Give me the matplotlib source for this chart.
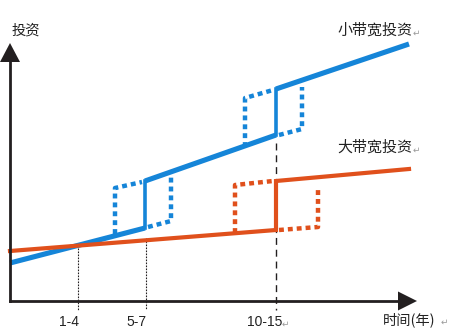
import matplotlib
matplotlib.use("Agg")
import matplotlib.pyplot as plt

plt.rcParams['font.family'] = ['Noto Sans CJK SC', 'DejaVu Sans']

# ---- schematic data (x: time, y: investment; origin at the axes corner) ----
blue_x = [0, 135, 135, 266, 266, 399]
blue_y = [38, 73, 120, 166, 212, 257]
orange_x = [0, 266, 266, 399]
orange_y = [50, 71, 120, 132]

# dotted uncertainty outlines
blue_band1_left_x = [105, 105, 132]
blue_band1_left_y = [67, 113, 119]
blue_band1_right_x = [138, 161, 161]
blue_band1_right_y = [74, 80, 127]
blue_band2_left_x = [235, 235, 263]
blue_band2_left_y = [154, 203, 211]
blue_band2_right_x = [269, 292, 292]
blue_band2_right_y = [166, 172, 214]
orange_band_left_x = [225, 225, 263]
orange_band_left_y = [68, 116, 120]
orange_band_right_x = [269, 308, 308]
orange_band_right_y = [71, 74, 114]

# time markers
tick_x = [68, 136, 266]
tick_top = [56, 63, 158]
tick_labels = ["1-4", "5-7", "10-15"]

BLUE = "#1585d8"
ORANGE = "#e0501c"
AX = "#231f20"

fig = plt.figure(figsize=(4.51, 3.32), dpi=100)
ax = fig.add_axes([0, 0, 1, 1])
ax.set_xlim(-10, 441)
ax.set_ylim(-31, 301)
ax.axis("off")

# guide lines
ax.plot([tick_x[0]] * 2, [tick_top[0], -9], color=AX, lw=0.8, ls=(0, (1.5, 1.2)))
ax.plot([tick_x[1]] * 2, [tick_top[1], -9], color=AX, lw=0.8, ls=(0, (1.5, 1.2)))
ax.plot([tick_x[2]] * 2, [tick_top[2], -9], color=AX, lw=1.0, ls=(0, (5, 3.5)))

# main lines
for i in (0, 2, 4):
    ax.plot(blue_x[i:i + 2], blue_y[i:i + 2], color=BLUE, lw=3.7, solid_capstyle='butt', zorder=3)
for i in (1, 3):
    ax.plot(blue_x[i:i + 2], blue_y[i:i + 2], color=BLUE, lw=2.6, solid_capstyle='projecting', zorder=3)
ax.plot(orange_x, orange_y, color=ORANGE, lw=3.0, solid_joinstyle='miter', zorder=3)

dot = dict(lw=3.2, ls=(0, (1.1, 0.9)), dash_capstyle='butt', zorder=2)
ax.plot(blue_band1_left_x, blue_band1_left_y, color=BLUE, **dot)
ax.plot(blue_band1_right_x, blue_band1_right_y, color=BLUE, **dot)
ax.plot(blue_band2_left_x, blue_band2_left_y, color=BLUE, **dot)
ax.plot(blue_band2_right_x, blue_band2_right_y, color=BLUE, **dot)
ax.plot(orange_band_left_x, orange_band_left_y, color=ORANGE, **dot)
ax.plot(orange_band_right_x, orange_band_right_y, color=ORANGE, **dot)

# axes with arrow heads
ax.plot([0, 0], [0, 240], color=AX, lw=2.0, solid_capstyle='projecting', zorder=4)
ax.fill([-10, 10, 0], [239, 239, 258], color=AX, lw=0, zorder=4)
ax.plot([0, 389], [0, 0], color=AX, lw=2.0, solid_capstyle='projecting', zorder=4)
ax.fill([388, 388, 407], [-9.5, 9.5, 0], color=AX, lw=0, zorder=4)

# tick labels
for x, lab in zip(tick_x, tick_labels):
    ax.text(x + (1 if lab != "10-15" else 6), -21, lab, ha='right', va='center',
            fontsize=10, family=['Liberation Sans', 'DejaVu Sans'], color='#222222')

PM = dict(fontsize=6.5, family=['DejaVu Sans'], color='#9a9a9a', va='center', ha='left')
ax.text(272, -23, "↵", **PM)

# text labels
TXT = dict(color='#222222')
ax.text(16, 270, "投资", ha='center', va='center', fontsize=10.3, **TXT)
ax.text(327, 271, "小带宽投资", ha='left', va='center', fontsize=10.8, **TXT)
ax.text(403, 268, "↵", **PM)
ax.text(327, 154, "大带宽投资", ha='left', va='center', fontsize=10.8, **TXT)
ax.text(403, 151, "↵", **PM)
ax.text(373, -19, "时间(年)", ha='left', va='center', fontsize=10.3, **TXT)
ax.text(431, -21, "↵", **PM)

fig.savefig("out.png", dpi=100)
